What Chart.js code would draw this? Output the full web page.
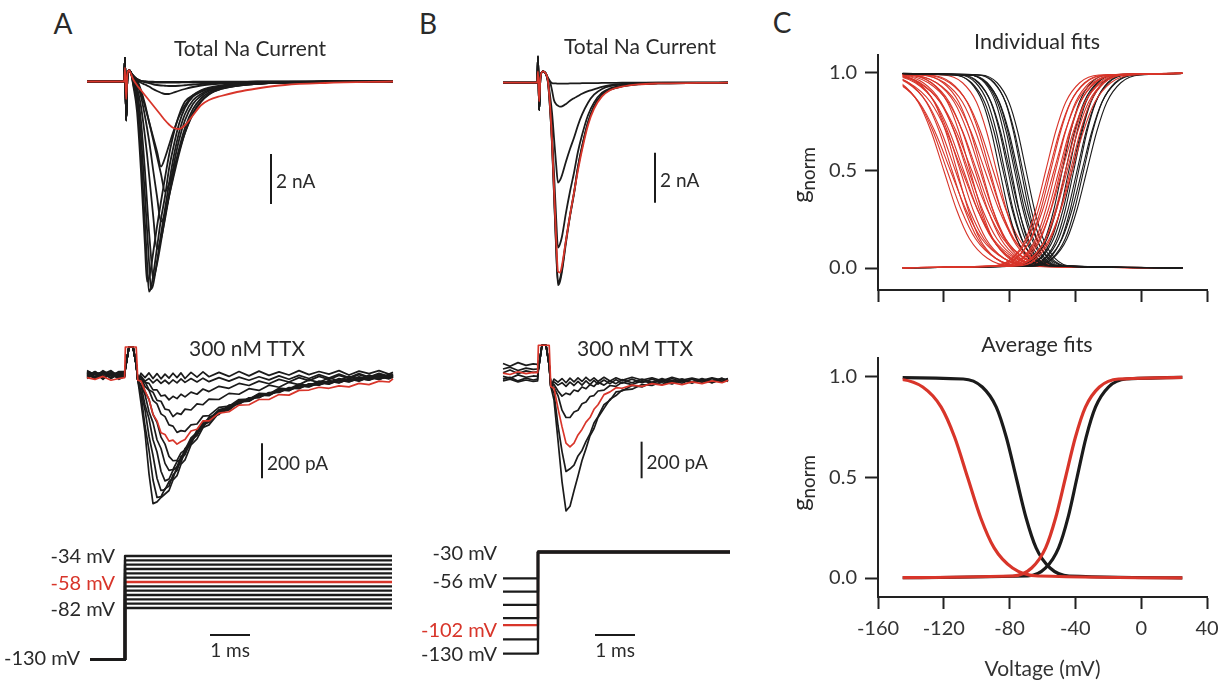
<!DOCTYPE html>
<html>
<head>
<meta charset="utf-8">
<script src="https://cdn.jsdelivr.net/npm/chart.js@4/dist/chart.umd.min.js"></script>
<style>
  body { margin: 0; background: #fff; }
  #fig { position: relative; width: 1220px; height: 683px; overflow: hidden; font-family: Lato, "Open Sans", sans-serif; color: #2a2a2a; }
  #fig canvas { position: absolute; }
  .txt { position: absolute; white-space: nowrap; line-height: 1; }
  .txt sub { font-size: 0.78em; vertical-align: -0.3em; }
</style>
</head>
<body>
<div id="fig">
  <canvas id="totalA" width="320" height="280" style="left:80px;top:30px"></canvas>
  <canvas id="ttxA" width="320" height="190" style="left:80px;top:330px"></canvas>
  <canvas id="protoA" width="320" height="150" style="left:80px;top:530px"></canvas>
  <canvas id="totalB" width="250" height="280" style="left:490px;top:30px"></canvas>
  <canvas id="ttxB" width="250" height="190" style="left:490px;top:330px"></canvas>
  <canvas id="protoB" width="250" height="150" style="left:490px;top:530px"></canvas>
  <canvas id="fitsInd" width="440" height="275" style="left:780px;top:40px"></canvas>
  <canvas id="fitsAvg" width="440" height="343" style="left:780px;top:340px"></canvas>
</div>
<script>
const RED = '#d8352a';
const BLACK = '#1b1b1b';

// ---- A: total Na current (nA) vs time (ms) ----
const tTotalA = [-0.95, -0.02, 0, 0.03, 0.06, 0.1, 0.15, 0.2, 0.3, 0.4, 0.5, 0.55, 0.6, 0.65, 0.7, 0.8, 0.9, 1.0, 1.1, 1.2, 1.35, 1.5, 1.7, 1.9, 2.1, 2.4, 2.8, 3.3, 4.0, 5.0, 6.7];
const totalA_black = [
  [0, 0, 0.95, -1.55, 0.2, 0.45, 0.35, -0.1, -1.2, -3.6, -6.6, -8.0, -7.85, -7.45, -6.9, -5.8, -4.8, -3.85, -2.95, -2.2, -1.35, -0.8, -0.55, -0.38, -0.28, -0.2, -0.12, -0.07, -0.03, -0.01, 0],
  [0, 0, 0.95, -1.55, 0.2, 0.45, 0.35, -0.05, -0.9, -2.9, -5.7, -7.2, -8.4, -8.25, -7.8, -6.65, -5.5, -4.6, -3.5, -2.7, -1.7, -1.05, -0.6, -0.42, -0.3, -0.2, -0.12, -0.07, -0.03, -0.01, 0],
  [0, 0, 0.95, -1.55, 0.2, 0.45, 0.35, 0, -0.6, -2.2, -4.6, -5.9, -7.2, -8.3, -8.15, -7.2, -6.1, -5.1, -4.1, -3.15, -2.05, -1.3, -0.75, -0.5, -0.34, -0.22, -0.13, -0.07, -0.03, -0.01, 0],
  [0, 0, 0.95, -1.55, 0.2, 0.45, 0.35, 0.05, -0.4, -1.6, -3.6, -4.8, -6.0, -7.0, -7.9, -7.3, -6.4, -5.4, -4.5, -3.5, -2.35, -1.55, -0.9, -0.58, -0.38, -0.24, -0.14, -0.08, -0.04, -0.01, 0],
  [0, 0, 0.95, -1.55, 0.2, 0.45, 0.35, 0.1, -0.25, -1.0, -2.2, -2.9, -3.7, -4.5, -5.3, -6.7, -6.3, -5.5, -4.6, -3.8, -2.7, -1.85, -1.1, -0.68, -0.44, -0.27, -0.16, -0.09, -0.04, -0.01, 0],
  [0, 0, 0.95, -1.55, 0.2, 0.45, 0.35, 0.15, -0.1, -0.6, -1.4, -1.85, -2.35, -2.9, -3.5, -4.6, -5.6, -5.3, -4.6, -3.9, -2.9, -2.05, -1.25, -0.78, -0.5, -0.3, -0.17, -0.09, -0.04, -0.01, 0],
  [0, 0, 0.95, -1.55, 0.2, 0.45, 0.35, 0.2, 0.05, -0.35, -0.9, -1.25, -1.6, -1.95, -2.3, -3.0, -3.7, -4.4, -4.1, -3.6, -2.8, -2.05, -1.3, -0.82, -0.52, -0.3, -0.17, -0.09, -0.04, -0.01, 0],
  [0, 0, 0.95, -1.55, 0.2, 0.45, 0.35, 0.2, 0, -0.45, -1.0, -1.3, -1.6, -1.9, -2.2, -2.8, -3.4, -3.05, -2.55, -2.05, -1.4, -0.95, -0.55, -0.35, -0.24, -0.16, -0.1, -0.06, -0.03, -0.01, 0],
  [0, 0, 0.95, -1.55, 0.2, 0.45, 0.35, 0.2, 0.05, -0.05, -0.12, -0.16, -0.2, -0.25, -0.3, -0.38, -0.45, -0.5, -0.5, -0.45, -0.37, -0.3, -0.22, -0.16, -0.12, -0.08, -0.05, -0.03, -0.02, -0.01, 0],
  [0, 0, 0.95, -1.55, 0.2, 0.45, 0.35, 0.25, 0.1, 0.02, -0.03, -0.05, -0.07, -0.09, -0.11, -0.14, -0.16, -0.17, -0.18, -0.18, -0.17, -0.15, -0.12, -0.1, -0.08, -0.06, -0.04, -0.03, -0.02, -0.01, 0],
  [0, 0, 0.95, -1.55, 0.2, 0.45, 0.35, 0.25, 0.1, 0.03, 0, -0.02, -0.02, -0.03, -0.03, -0.04, -0.04, -0.04, -0.04, -0.04, -0.04, -0.03, -0.03, -0.03, -0.02, -0.02, -0.02, -0.01, -0.01, 0, 0],
  [0, 0, 0.95, -1.55, 0.2, 0.45, 0.35, 0.25, 0.08, 0.02, 0, 0, -0.01, -0.01, -0.01, -0.02, -0.02, -0.02, -0.02, -0.02, -0.02, -0.02, -0.01, -0.01, -0.01, -0.01, -0.01, 0, 0, 0, 0]
];
const totalA_red = [0, 0, 0.55, -0.7, 0.3, 0.45, 0.3, 0.1, -0.15, -0.35, -0.55, -0.65, -0.75, -0.85, -0.95, -1.15, -1.35, -1.55, -1.72, -1.85, -1.9, -1.75, -1.35, -0.95, -0.74, -0.58, -0.42, -0.28, -0.14, -0.06, 0];

// ---- A: 300 nM TTX (pA) ----
const tTtxA = [-0.95, -0.75, -0.55, -0.35, -0.15, -0.01, 0.01, 0.1, 0.2, 0.28, 0.32, 0.4, 0.5, 0.6, 0.7, 0.8, 0.9, 1.0, 1.1, 1.2, 1.3, 1.4, 1.5, 1.65, 1.8, 1.95, 2.1, 2.35, 2.6, 2.85, 3.1, 3.35, 3.6, 3.85, 4.1, 4.35, 4.6, 4.85, 5.1, 5.35, 5.6, 5.85, 6.1, 6.35, 6.6, 6.7];
const ttxA_black = [
  [12, -15, 20, -8, 15, 5, 40, 160, 160, 60, -30, -160, -330, -565, -735, -725, -700, -680, -660, -600, -575, -510, -485, -400, -365, -300, -285, -215, -200, -155, -150, -115, -118, -85, -90, -62, -68, -45, -52, -30, -40, -20, -30, -10, -22, -12],
  [-10, 18, -5, 22, -12, -5, 40, 160, 160, 60, -30, -110, -290, -430, -600, -700, -695, -650, -635, -570, -545, -480, -455, -375, -345, -285, -270, -210, -195, -150, -148, -118, -112, -92, -80, -72, -55, -55, -38, -42, -25, -30, -15, -22, -8, -14],
  [20, 5, -15, 10, -20, 8, 40, 160, 160, 60, -30, -95, -200, -350, -460, -590, -660, -655, -610, -590, -525, -500, -435, -395, -325, -300, -245, -225, -172, -168, -130, -128, -100, -100, -75, -78, -52, -58, -35, -45, -22, -35, -12, -25, -5, -15],
  [-20, 8, 15, -18, 5, -12, 40, 160, 160, 60, -30, -60, -170, -250, -370, -440, -550, -605, -595, -545, -525, -465, -445, -370, -340, -280, -262, -205, -188, -150, -145, -112, -115, -85, -88, -60, -66, -42, -50, -28, -38, -18, -28, -8, -20, -10],
  [5, -22, 10, 0, 18, 0, 40, 160, 160, 60, -30, -58, -112, -210, -272, -370, -420, -505, -545, -540, -495, -480, -420, -385, -315, -295, -240, -220, -175, -165, -132, -130, -102, -98, -72, -75, -50, -55, -32, -42, -20, -32, -10, -24, -4, -12],
  [-15, 12, -25, 15, -5, 10, 40, 160, 160, 60, -30, -28, -95, -140, -225, -270, -355, -395, -465, -490, -488, -445, -428, -360, -328, -270, -252, -198, -185, -148, -140, -110, -110, -82, -85, -58, -62, -40, -48, -25, -35, -15, -26, -6, -18, -9],
  [18, -10, 25, -2, 12, 15, 40, 160, 160, 60, -30, -12, -65, -88, -145, -165, -222, -238, -285, -292, -328, -318, -322, -285, -280, -235, -232, -185, -178, -140, -138, -105, -108, -75, -80, -52, -60, -35, -44, -20, -32, -10, -22, 0, -14, -2],
  [-5, 20, -18, 8, -25, -8, 40, 160, 160, 60, -30, -28, -38, -85, -98, -145, -150, -195, -200, -238, -218, -225, -195, -200, -165, -170, -138, -140, -105, -110, -78, -88, -58, -70, -42, -55, -28, -42, -17, -32, -8, -24, -1, -18, 4, -5],
  [25, 0, 12, -20, 20, 20, 40, 160, 160, 60, -30, -5, -42, -48, -85, -85, -120, -115, -142, -122, -135, -110, -125, -98, -110, -80, -95, -65, -76, -48, -60, -35, -50, -25, -40, -15, -32, -8, -26, -2, -20, 2, -15, 6, -12, 2],
  [-8, 15, -20, 5, 10, -5, 40, 160, 160, 60, -30, -10, -35, -20, -45, -25, -48, -30, -50, -28, -45, -22, -42, -20, -40, -18, -38, -15, -35, -12, -30, -10, -28, -5, -24, -2, -20, 2, -18, 5, -15, 8, -12, 10, -8, 5],
  [10, -20, 5, 25, -10, 0, 40, 160, 160, 60, -30, 10, -15, 12, -20, 8, -22, 5, -18, 10, -15, 12, -20, 15, -12, 18, -10, 15, -8, 20, -5, 22, -2, 18, 0, 25, 2, 20, 5, 25, 0, 22, 8, 25, 5, 15]
];
const ttxA_red = [-15, -25, -8, -30, -20, -15, 160, 160, 160, 160, -30, -35, -90, -140, -225, -262, -330, -340, -378, -372, -395, -380, -368, -320, -310, -262, -262, -218, -210, -172, -170, -140, -140, -112, -115, -88, -86, -70, -76, -62, -68, -48, -55, -35, -40, -22];

// ---- A: voltage protocol (mV) ----
const protoA_levels = [-34, -38, -42, -46, -50, -54, -58, -62, -66, -70, -74, -78, -82];
const protoA_red = -58;
const protoA_hold = -130;
const protoA_times = [-0.875, 0, 6.675];

// ---- B: total Na current (nA) ----
const tTotalB = [-0.875, -0.02, 0, 0.03, 0.06, 0.12, 0.18, 0.25, 0.3, 0.35, 0.4, 0.45, 0.5, 0.55, 0.6, 0.7, 0.8, 0.9, 1.0, 1.1, 1.25, 1.4, 1.6, 1.8, 2.1, 2.5, 3.0, 4.0, 4.75];
const totalB_black = [
  [0, 0, 1.05, -1.1, 0.2, 0.45, 0.4, 0, -1.0, -2.45, -4.45, -6.5, -8.1, -7.95, -7.55, -6.4, -5.35, -4.45, -3.4, -2.6, -1.6, -0.97, -0.49, -0.28, -0.15, -0.07, -0.03, -0.01, 0],
  [0, 0, 1.05, -1.1, 0.2, 0.45, 0.4, 0, -1.0, -2.4, -4.4, -6.4, -8.0, -7.85, -7.45, -6.3, -5.3, -4.4, -3.35, -2.55, -1.58, -0.95, -0.48, -0.27, -0.14, -0.06, -0.03, -0.01, 0],
  [0, 0, 1.05, -1.1, 0.2, 0.45, 0.4, 0.05, -0.8, -2.0, -3.6, -5.3, -6.6, -6.45, -6.15, -5.2, -4.35, -3.6, -2.75, -2.1, -1.3, -0.8, -0.4, -0.23, -0.12, -0.05, -0.02, -0.01, 0],
  [0, 0, 1.05, -1.1, 0.2, 0.45, 0.4, 0.1, -0.5, -1.2, -2.2, -3.2, -4.0, -3.9, -3.7, -3.15, -2.65, -2.2, -1.7, -1.28, -0.8, -0.48, -0.25, -0.14, -0.07, -0.03, -0.01, 0, 0],
  [0, 0, 1.05, -1.1, 0.2, 0.45, 0.4, 0.2, 0.05, -0.3, -0.7, -0.85, -0.92, -0.96, -0.95, -0.85, -0.72, -0.62, -0.53, -0.44, -0.34, -0.27, -0.17, -0.1, -0.05, -0.02, 0, 0, 0],
  [0, 0, 1.05, -1.1, 0.2, 0.45, 0.4, 0.15, 0.05, -0.02, -0.03, -0.03, -0.04, -0.04, -0.04, -0.04, -0.03, -0.03, -0.03, -0.02, -0.02, -0.02, -0.01, -0.01, 0, 0, 0, 0, 0]
];
const totalB_red = [0, 0, 0.45, -0.75, 0.2, 0.45, 0.4, 0.05, -0.9, -2.3, -4.2, -6.1, -7.55, -7.6, -7.3, -6.3, -5.3, -4.4, -3.5, -2.7, -1.7, -1.05, -0.55, -0.3, -0.16, -0.07, -0.03, -0.01, 0];

// ---- B: 300 nM TTX (pA) ----
const tTtxB = [-0.875, -0.7, -0.5, -0.3, -0.12, -0.01, 0.01, 0.1, 0.2, 0.28, 0.32, 0.4, 0.5, 0.6, 0.7, 0.8, 0.9, 1.0, 1.1, 1.2, 1.3, 1.4, 1.5, 1.65, 1.8, 1.95, 2.1, 2.35, 2.6, 2.85, 3.1, 3.35, 3.6, 3.85, 4.1, 4.35, 4.6, 4.75];
const ttxB_black = [
  [90, 75, 95, 80, 88, 85, 60, 190, 190, 80, -35, -110, -330, -555, -715, -690, -605, -525, -440, -375, -305, -265, -205, -155, -105, -85, -55, -50, -25, -30, -8, -22, 0, -18, 5, -15, 8, -5],
  [40, 55, 35, 50, 42, 45, 60, 190, 190, 80, -35, -70, -250, -390, -500, -485, -465, -415, -385, -335, -295, -235, -200, -135, -110, -65, -60, -30, -38, -12, -25, -2, -18, 5, -12, 8, -10, 2],
  [5, 15, -5, 10, 0, 5, 60, 190, 190, 80, -35, -40, -85, -165, -205, -205, -175, -165, -130, -120, -90, -85, -60, -55, -30, -35, -12, -25, -5, -18, 2, -15, 5, -12, 0, -15, 5, -8],
  [60, 70, 52, 65, 58, 60, 60, 190, 190, 80, -35, -25, -60, -88, -72, -80, -55, -62, -38, -48, -25, -35, -12, -28, -5, -20, 2, -15, 5, -12, 8, -10, 5, -12, 8, -8, 10, -5],
  [20, 10, 28, 15, 22, 20, 60, 190, 190, 80, -35, -10, -28, -15, -35, -12, -30, -8, -28, -5, -25, -2, -22, 0, -20, 2, -18, 5, -15, 5, -12, 8, -10, 5, -12, 8, -8, 5],
  [-5, 5, -10, 0, -8, -5, 60, 190, 190, 80, -35, 5, -12, 8, -15, 10, -10, 12, -8, 15, -5, 12, -8, 15, -5, 12, -2, 15, 0, 12, -5, 15, 0, 10, -2, 12, 0, 8]
];
const ttxB_red = [38, 30, 45, 35, 42, 40, 190, 190, 190, 190, -35, -45, -155, -255, -345, -365, -345, -300, -270, -230, -205, -160, -135, -80, -65, -42, -45, -28, -35, -20, -28, -15, -25, -10, -20, -5, -15, -2];

// ---- B: voltage protocol (mV) ----
const protoB_pre = [-56, -69, -82, -95, -102, -116, -130];
const protoB_red = -102;
const protoB_test = -30;
const protoB_times = [-0.875, 0, 4.8];

// ---- C: Boltzmann fits, voltage (mV) at fixed g levels ----
const gInact = [1, 0.99, 0.95, 0.85, 0.7, 0.5, 0.3, 0.15, 0.05, 0.01, 0];
const gAct = [0, 0.01, 0.05, 0.15, 0.3, 0.5, 0.7, 0.85, 0.95, 0.99, 1];
const fitRedInact = [
  [-200, -161.4, -146.5, -135.6, -127.7, -120, -112.3, -104.4, -93.5, -78.6, 60],
  [-200, -164, -147.4, -135.3, -126.5, -118, -109.5, -100.7, -88.6, -72, 60],
  [-200, -166.6, -148.3, -135, -125.4, -116, -106.6, -97, -83.7, -65.4, 60],
  [-200, -156.4, -141.5, -130.6, -122.7, -115, -107.3, -99.4, -88.5, -73.6, 60],
  [-200, -159, -142.4, -130.3, -121.5, -113, -104.5, -95.7, -83.6, -67, 60],
  [-200, -148.8, -135.5, -125.8, -118.8, -112, -105.2, -98.2, -88.5, -75.2, 60],
  [-200, -151.4, -136.5, -125.6, -117.7, -110, -102.3, -94.4, -83.5, -68.6, 60],
  [-200, -159.6, -141.3, -128, -118.4, -109, -99.6, -90, -76.7, -58.4, 60],
  [-200, -154, -137.4, -125.3, -116.5, -108, -99.5, -90.7, -78.6, -62, 60],
  [-200, -147.4, -132.5, -121.6, -113.7, -106, -98.3, -90.4, -79.5, -64.6, 60],
  [-200, -151, -134.4, -122.3, -113.5, -105, -96.5, -87.7, -75.6, -59, 60],
  [-200, -140.8, -127.5, -117.8, -110.8, -104, -97.2, -90.2, -80.5, -67.2, 60],
  [-200, -153.6, -135.3, -122, -112.4, -103, -93.6, -84, -70.7, -52.4, 60],
  [-200, -142.4, -127.5, -116.6, -108.7, -101, -93.3, -85.4, -74.5, -59.6, 60],
  [-200, -146, -129.4, -117.3, -108.5, -100, -91.5, -82.7, -70.6, -54, 60],
  [-200, -139.4, -124.5, -113.6, -105.7, -98, -90.3, -82.4, -71.5, -56.6, 60],
  [-200, -133.8, -120.5, -110.8, -103.8, -97, -90.2, -83.2, -73.5, -60.2, 60],
  [-200, -141, -124.4, -112.3, -103.5, -95, -86.5, -77.7, -65.6, -49, 60],
  [-200, -134.4, -119.5, -108.6, -100.7, -93, -85.3, -77.4, -66.5, -51.6, 60],
  [-200, -128.8, -115.5, -105.8, -98.8, -92, -85.2, -78.2, -68.5, -55.2, 60],
  [-200, -131.4, -116.5, -105.6, -97.7, -90, -82.3, -74.4, -63.5, -48.6, 60],
  [-200, -120.2, -108.6, -100.1, -94, -88, -82, -75.9, -67.4, -55.8, 60]
];
const fitBlackInact = [
  [-200, -113.6, -103.6, -96.4, -91.1, -86, -80.9, -75.6, -68.4, -58.4, 60],
  [-200, -113.9, -103.1, -95.2, -89.5, -84, -78.5, -72.8, -64.9, -54.1, 60],
  [-200, -110.6, -100.6, -93.4, -88.1, -83, -77.9, -72.6, -65.4, -55.4, 60],
  [-200, -108.6, -98.6, -91.4, -86.1, -81, -75.9, -70.6, -63.4, -53.4, 60],
  [-200, -109.9, -99.1, -91.2, -85.5, -80, -74.5, -68.8, -60.9, -50.1, 60],
  [-200, -104.3, -95.2, -88.5, -83.7, -79, -74.3, -69.5, -62.8, -53.7, 60],
  [-200, -104.6, -94.6, -87.4, -82.1, -77, -71.9, -66.6, -59.4, -49.4, 60],
  [-200, -103.6, -93.6, -86.4, -81.1, -76, -70.9, -65.6, -58.4, -48.4, 60],
  [-200, -104.9, -94.1, -86.2, -80.5, -75, -69.5, -63.8, -55.9, -45.1, 60],
  [-200, -98.3, -89.2, -82.5, -77.7, -73, -68.3, -63.5, -56.8, -47.7, 60],
  [-200, -99.6, -89.6, -82.4, -77.1, -72, -66.9, -61.6, -54.4, -44.4, 60],
  [-200, -97.6, -87.6, -80.4, -75.1, -70, -64.9, -59.6, -52.4, -42.4, 60]
];
const fitBlackAct = [
  [-200, -75.6, -65.6, -58.4, -53.1, -48, -42.9, -37.6, -30.4, -20.4, 60],
  [-200, -75.9, -65.1, -57.2, -51.5, -46, -40.5, -34.8, -26.9, -16.1, 60],
  [-200, -71.6, -61.6, -54.4, -49.1, -44, -38.9, -33.6, -26.4, -16.4, 60],
  [-200, -71.9, -61.1, -53.2, -47.5, -42, -36.5, -30.8, -22.9, -12.1, 60],
  [-200, -68.6, -58.6, -51.4, -46.1, -41, -35.9, -30.6, -23.4, -13.4, 60],
  [-200, -68.9, -58.1, -50.2, -44.5, -39, -33.5, -27.8, -19.9, -9.1, 60],
  [-200, -65.6, -55.6, -48.4, -43.1, -38, -32.9, -27.6, -20.4, -10.4, 60],
  [-200, -68.2, -56.6, -48.1, -42, -36, -30, -23.9, -15.4, -3.8, 60],
  [-200, -64.9, -54.1, -46.2, -40.5, -35, -29.5, -23.8, -15.9, -5.1, 60],
  [-200, -65.2, -53.6, -45.1, -39, -33, -27, -20.9, -12.4, -0.8, 60]
];
const fitRedAct = [
  [-200, -90.2, -78.6, -70.1, -64, -58, -52, -45.9, -37.4, -25.8, 60],
  [-200, -90.5, -78.1, -69, -62.4, -56, -49.6, -43, -33.9, -21.5, 60],
  [-200, -87.2, -75.6, -67.1, -61, -55, -49, -42.9, -34.4, -22.8, 60],
  [-200, -89.8, -76.5, -66.8, -59.8, -53, -46.2, -39.2, -29.5, -16.2, 60],
  [-200, -84.2, -72.6, -64.1, -58, -52, -46, -39.9, -31.4, -19.8, 60],
  [-200, -84.5, -72.1, -63, -56.4, -50, -43.6, -37, -27.9, -15.5, 60],
  [-200, -81.2, -69.6, -61.1, -55, -49, -43, -36.9, -28.4, -16.8, 60],
  [-200, -84.8, -71.5, -61.8, -54.8, -48, -41.2, -34.2, -24.5, -11.2, 60],
  [-200, -78.2, -66.6, -58.1, -52, -46, -40, -33.9, -25.4, -13.8, 60],
  [-200, -79.5, -67.1, -58, -51.4, -45, -38.6, -32, -22.9, -10.5, 60],
  [-200, -75.2, -63.6, -55.1, -49, -43, -37, -30.9, -22.4, -10.8, 60],
  [-200, -78.8, -65.5, -55.8, -48.8, -42, -35.2, -28.2, -18.5, -5.2, 60]
];
const avgBlackInact = [-200, -108.2, -96.6, -88.1, -82, -76, -70, -63.9, -55.4, -43.8, 60];
const avgRedInact = [-200, -148.3, -132.8, -121.6, -113.4, -105.5, -97.6, -89.4, -78.2, -62.7, 60];
const avgBlackAct = [-200, -68.9, -58.1, -50.2, -44.5, -39, -33.5, -27.8, -19.9, -9.1, 60];
const avgRedAct = [-200, -78.2, -66.6, -58.1, -52, -46, -40, -33.9, -25.4, -13.8, 60];
const fitRange = [-145, 25];
const voltTicks = [-160, -120, -80, -40, 0, 40];
const gTicks = [0, 0.5, 1];

Chart.defaults.font.family = 'Lato, "Open Sans", sans-serif';
Chart.defaults.color = '#2a2a2a';

// scale bars drawn in data units of each panel
const scaleBar = {
  id: 'scaleBar',
  afterDatasetsDraw(chart, args, opts) {
    const bars = opts.bars || [];
    const { ctx, scales: { x, y } } = chart;
    ctx.save();
    ctx.strokeStyle = BLACK;
    ctx.fillStyle = '#2a2a2a';
    ctx.lineWidth = 2;
    ctx.font = '19px Lato, "Open Sans", sans-serif';
    bars.forEach(b => {
      const x0 = x.getPixelForValue(b.x0), x1 = x.getPixelForValue(b.x1);
      const y0 = y.getPixelForValue(b.y0), y1 = y.getPixelForValue(b.y1);
      ctx.beginPath(); ctx.moveTo(x0, y0); ctx.lineTo(x1, y1); ctx.stroke();
      if (b.x0 === b.x1) {
        ctx.textAlign = 'left'; ctx.textBaseline = 'middle';
        ctx.fillText(b.label, x0 + 5, (y0 + y1) / 2 + 3);
      } else {
        ctx.textAlign = 'center'; ctx.textBaseline = 'top';
        ctx.fillText(b.label, (x0 + x1) / 2, y0 + 6);
      }
    });
    ctx.restore();
  }
};

// fits only exist between fitRange[0] and fitRange[1]
const fitClip = {
  id: 'fitClip',
  beforeDatasetsDraw(chart) {
    const { ctx, scales: { x } } = chart;
    const l = x.getPixelForValue(fitRange[0]), r = x.getPixelForValue(fitRange[1]);
    ctx.save();
    ctx.beginPath();
    ctx.rect(l, 0, r - l, chart.height);
    ctx.clip();
  },
  afterDatasetsDraw(chart) { chart.ctx.restore(); }
};

function lineDs(xs, ys, color, width, smooth) {
  return {
    data: ys.map((v, i) => ({ x: xs[i], y: v })),
    borderColor: color,
    borderWidth: width,
    pointRadius: 0,
    cubicInterpolationMode: smooth ? 'monotone' : 'default',
    tension: 0,
    borderJoinStyle: 'round',
    clip: false
  };
}

// later entries are drawn on top
function stack(datasets) {
  datasets.forEach((d, i) => { d.order = datasets.length - i; });
  return datasets;
}

function plainChart(id, datasets, xr, yr, bars) {
  return new Chart(document.getElementById(id), {
    type: 'line',
    data: { datasets: stack(datasets) },
    options: {
      responsive: false, animation: false, devicePixelRatio: 1, events: [],
      layout: { padding: 0 },
      plugins: { legend: { display: false }, tooltip: { enabled: false }, scaleBar: { bars } },
      scales: {
        x: { type: 'linear', min: xr[0], max: xr[1], display: false },
        y: { type: 'linear', min: yr[0], max: yr[1], display: false }
      }
    },
    plugins: [scaleBar]
  });
}

function protoDs(times, hold, level, color) {
  return lineDs([times[0], times[1], times[1], times[2]], [hold, hold, level, level], color, 2.3, false);
}

function axisStyle(len) {
  return {
    grid: { drawOnChartArea: false, drawTicks: true, tickLength: len, tickWidth: 2, tickColor: '#222' },
    border: { display: true, color: '#222', width: 2 }
  };
}

function fitChart(id, datasets, yr, padTop, xAxisH, withLabels) {
  return new Chart(document.getElementById(id), {
    type: 'line',
    data: { datasets: stack(datasets) },
    options: {
      responsive: false, animation: false, devicePixelRatio: 1, events: [],
      layout: { padding: { top: padTop, right: 13, left: 0, bottom: 0 } },
      plugins: { legend: { display: false }, tooltip: { enabled: false } },
      scales: {
        x: {
          type: 'linear', position: 'bottom', min: voltTicks[0], max: voltTicks[voltTicks.length - 1],
          ...axisStyle(12),
          afterBuildTicks: s => { s.ticks = voltTicks.map(v => ({ value: v })); },
          afterFit: s => { s.height = xAxisH; s.paddingLeft = 0; s.paddingRight = 0; },
          ticks: { display: withLabels, font: { size: 20 }, color: '#333', padding: 8 },
          title: { display: withLabels, text: 'Voltage (mV)', font: { size: 21 }, color: '#333', padding: { top: 0, bottom: 1 } }
        },
        y: {
          type: 'linear', position: 'left', min: yr[0], max: yr[1],
          ...axisStyle(13),
          afterBuildTicks: s => { s.ticks = gTicks.map(v => ({ value: v })); },
          afterFit: s => { s.width = 98; s.paddingTop = 0; s.paddingBottom = 0; },
          ticks: { font: { size: 20 }, color: '#333', padding: 8, callback: v => v.toFixed(1) }
        }
      }
    },
    plugins: [fitClip]
  });
}

// A
plainChart('totalA',
  [...totalA_black.map(s => lineDs(tTotalA, s, BLACK, 1.8, true)), lineDs(tTotalA, totalA_red, RED, 1.8, true)],
  [-1.125, 6.875], [-9.14, 2.06],
  [{ x0: 3.65, x1: 3.65, y0: -2.9, y1: -4.9, label: '2 nA' }]);
plainChart('ttxA',
  [...ttxA_black.map(s => lineDs(tTtxA, s, BLACK, 1.7, false)), lineDs(tTtxA, ttxA_red, RED, 1.7, false)],
  [-1.125, 6.875], [-828.6, 257.1],
  [{ x0: 3.425, x1: 3.425, y0: -390, y1: -590, label: '200 pA' }]);
plainChart('protoA',
  [protoDs(protoA_times, protoA_hold, protoA_red, RED),
   ...protoA_levels.filter(v => v !== protoA_red).map(v => protoDs(protoA_times, protoA_hold, v, BLACK))],
  [-1.125, 6.875], [-148.5, -10],
  [{ x0: 2.125, x1: 3.125, y0: -107, y1: -107, label: '1 ms' }]);

// B
plainChart('totalB',
  [...totalB_black.map(s => lineDs(tTotalB, s, BLACK, 1.8, true)), lineDs(tTotalB, totalB_red, RED, 1.8, true)],
  [-1.2, 5.05], [-9.092, 2.108],
  [{ x0: 2.925, x1: 2.925, y0: -2.8, y1: -4.8, label: '2 nA' }]);
plainChart('ttxB',
  [...ttxB_black.map(s => lineDs(tTtxB, s, BLACK, 1.7, false)), lineDs(tTtxB, ttxB_red, RED, 1.7, false)],
  [-1.2, 5.05], [-765, 273.2],
  [{ x0: 2.59, x1: 2.59, y0: -337, y1: -537, label: '200 pA' }]);
plainChart('protoB',
  [protoDs(protoB_times, protoB_red, protoB_test, RED),
   ...protoB_pre.filter(v => v !== protoB_red).map(v => protoDs(protoB_times, v, protoB_test, BLACK))],
  [-1.2, 5.05], [-156, -8.35],
  [{ x0: 1.425, x1: 2.425, y0: -111.7, y1: -111.7, label: '1 ms' }]);

// C
fitChart('fitsInd', [
  ...fitRedInact.map(v => lineDs(v, gInact, RED, 1.1, true)),
  ...fitBlackInact.map(v => lineDs(v, gInact, BLACK, 1.1, true)),
  ...fitBlackAct.map(v => lineDs(v, gAct, BLACK, 1.1, true)),
  ...fitRedAct.map(v => lineDs(v, gAct, RED, 1.1, true))
], [-0.1128, 1.0923], 15, 25, false);
fitChart('fitsAvg', [
  lineDs(avgBlackInact, gInact, BLACK, 3.2, true),
  lineDs(avgBlackAct, gAct, BLACK, 3.2, true),
  lineDs(avgRedInact, gInact, RED, 3.2, true),
  lineDs(avgRedAct, gAct, RED, 3.2, true)
], [-0.0945, 1.0945], 18, 86, true);

// text
const fig = document.getElementById('fig');
function addText(html, x, y, align, size, color, rotate) {
  const d = document.createElement('div');
  d.className = 'txt';
  d.innerHTML = html;
  d.style.left = x + 'px';
  d.style.top = y + 'px';
  d.style.fontSize = size + 'px';
  if (color) d.style.color = color;
  const tx = align === 'right' ? '-100%' : align === 'left' ? '0' : '-50%';
  d.style.transform = `translate(${tx}, -50%)` + (rotate ? ` rotate(${rotate}deg)` : '');
  fig.appendChild(d);
}
addText('A', 63, 23, 'center', 28);
addText('B', 428, 23, 'center', 28);
addText('C', 782, 22, 'center', 28);
addText('Total Na Current', 250, 47, 'center', 21);
addText('Total Na Current', 640, 45, 'center', 21);
addText('300 nM TTX', 247, 347, 'center', 21);
addText('300 nM TTX', 635, 347, 'center', 21);
addText('Individual fits', 1037, 42, 'center', 21.5);
addText('Average fits', 1037, 345, 'center', 21.5);
addText('-34 mV', 115, 555, 'right', 20);
addText('-58 mV', 115, 582, 'right', 20, RED);
addText('-82 mV', 115, 608, 'right', 20);
addText('-130 mV', 80, 657, 'right', 20);
addText('-30 mV', 497, 552, 'right', 20);
addText('-56 mV', 497, 580, 'right', 20);
addText('-102 mV', 497, 629, 'right', 20, RED);
addText('-130 mV', 497, 653, 'right', 20);
addText('g<sub>norm</sub>', 803, 175, 'center', 24, null, -90);
addText('g<sub>norm</sub>', 803, 483, 'center', 24, null, -90);
</script>
</body>
</html>
